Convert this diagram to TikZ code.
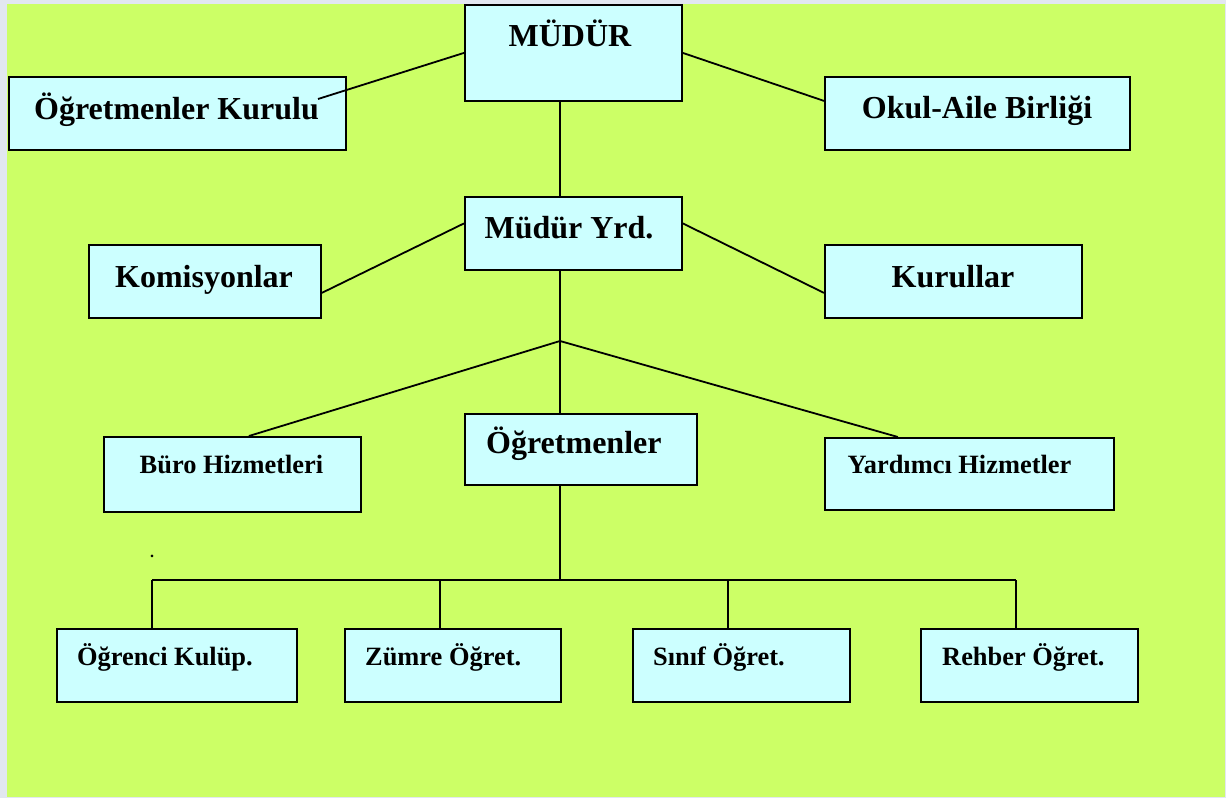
\documentclass[tikz,border=0pt]{standalone}
\usepackage{fontspec}
\setmainfont{Liberation Serif}
\usetikzlibrary{calc}
\definecolor{bggreen}{HTML}{CCFF66}
\definecolor{boxcyan}{HTML}{CCFFFF}
\definecolor{framegray}{HTML}{E2E7F0}
\tikzset{
  orgbox/.style={draw=black, fill=boxcyan, line width=1.8pt, inner sep=0pt, anchor=north west},
  bigtxt/.style={inner sep=0pt, font=\fontsize{32}{38}\selectfont\bfseries},
  smalltxt/.style={inner sep=0pt, font=\fontsize{26.4}{32}\selectfont\bfseries},
  conn/.style={draw=black, line width=1.8pt}
}
\newcommand{\orgnode}[5]{%
  \node[orgbox, minimum width={(#4-#2)*1pt}, minimum height={(#5-#3)*1pt}] (#1) at (#2,#3) {};}
\begin{document}
\begin{tikzpicture}[x=1pt,y=-1pt]
\useasboundingbox (0,0) rectangle (1226,798);
\fill[framegray] (0,0) rectangle (1226,798);
\fill[bggreen] (7,4) rectangle (1225,797);

% boxes
\orgnode{mudur}{464}{4}{681}{100}
\orgnode{ogk}{8}{76}{345}{149}
\orgnode{oab}{824}{76}{1129}{149}
\orgnode{myrd}{464}{196}{681}{269}
\orgnode{kom}{88}{244}{320}{317}
\orgnode{kur}{824}{244}{1081}{317}
\orgnode{buro}{103}{436}{360}{511}
\orgnode{ogr}{464}{413}{696}{484}
\orgnode{yrd}{824}{437}{1113}{509}
\orgnode{okul}{56}{628}{296}{701}
\orgnode{zum}{344}{628}{560}{701}
\orgnode{sin}{632}{628}{849}{701}
\orgnode{reh}{920}{628}{1137}{701}

% texts
\node[bigtxt, anchor=base] (mudur-t) at (570,46) {MÜDÜR};
\node[bigtxt, anchor=base] (ogk-t) at (176.5,119) {Öğretmenler Kurulu};
\node[bigtxt, anchor=base] (oab-t) at (977,118) {Okul-Aile Birliği};
\node[bigtxt, anchor=base] (myrd-t) at (569,238) {Müdür Yrd.};
\node[bigtxt, anchor=base] (kom-t) at (204,287) {Komisyonlar};
\node[bigtxt, anchor=base] (kur-t) at (953,287) {Kurullar};
\node[smalltxt, anchor=base] (buro-t) at (231.5,473) {Büro Hizmetleri};
\node[bigtxt, anchor=base west] (ogr-t) at (486,453) {Öğretmenler};
\node[smalltxt, anchor=base] (yrd-t) at (959.5,473) {Yardımcı Hizmetler};
\node[smalltxt, anchor=base west] (okul-t) at (77,665) {Öğrenci Kulüp.};
\node[smalltxt, anchor=base west] (zum-t) at (365,665) {Zümre Öğret.};
\node[smalltxt, anchor=base west] (sin-t) at (653,665) {Sınıf Öğret.};
\node[smalltxt, anchor=base west] (reh-t) at (942,665) {Rehber Öğret.};
\node[inner sep=0pt, font=\fontsize{16}{18}\selectfont\bfseries] (dot) at (152,556) {.};

% coordinates
\coordinate (J) at (560,341);
\coordinate (ogkend) at (318,99);
\coordinate (bar) at (560,580);
\coordinate (b1) at (152,580);
\coordinate (b2) at (440,580);
\coordinate (b3) at (728,580);
\coordinate (b4) at (1016,580);

% connectors
\draw[conn] (mudur.west) -- (ogkend);
\draw[conn] (mudur.east) -- ([yshift=12.5pt]oab.west);
\draw[conn] (J |- mudur.south) -- (J |- myrd.north);
\draw[conn] ([yshift=10pt]myrd.west) -- ([yshift=-11.5pt]kom.east);
\draw[conn] ([yshift=10pt]myrd.east) -- ([yshift=-11.5pt]kur.west);
\draw[conn] (J |- myrd.south) -- (J |- ogr.north);
\draw[conn] (J) -- ([xshift=16.5pt]buro.north);
\draw[conn] (J) -- ([xshift=-71.5pt]yrd.north);
\draw[conn] (J |- ogr.south) -- (bar);
\draw[conn] (b1) -- (b4);
\draw[conn] (b1) -- (b1 |- okul.north);
\draw[conn] (b2) -- (b2 |- zum.north);
\draw[conn] (b3) -- (b3 |- sin.north);
\draw[conn] (b4) -- (b4 |- reh.north);
\end{tikzpicture}
\end{document}
